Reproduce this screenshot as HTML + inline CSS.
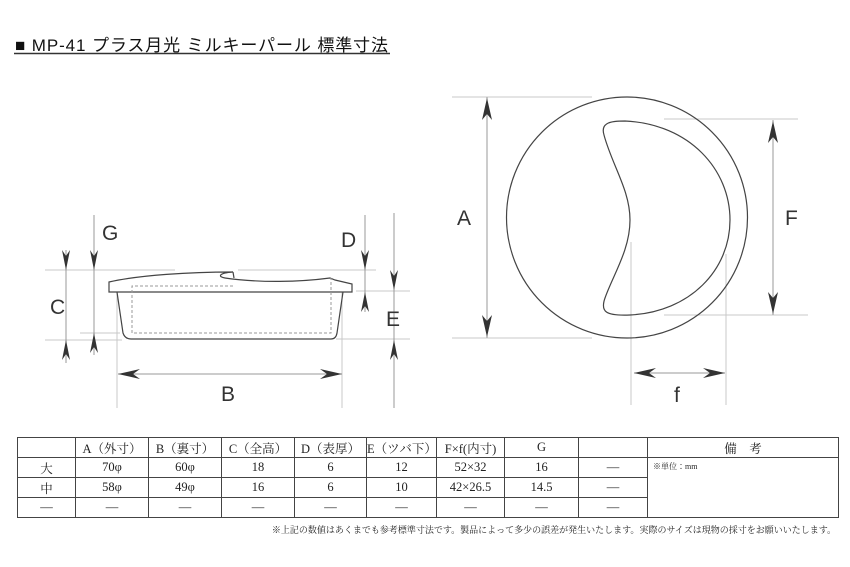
<!DOCTYPE html>
<html><head><meta charset="utf-8"><style>
body{margin:0;background:#fff;width:850px;height:567px;overflow:hidden;position:relative}
svg{position:absolute;left:0;top:0}
.lbl{font-family:"Liberation Sans",sans-serif;font-size:21px;fill:#333}
table{position:absolute;left:17px;top:437px;border-collapse:collapse;font-family:"Liberation Serif","Noto Serif CJK JP",serif;font-size:12.5px;color:#222}
td{border:1px solid #444;height:19px;padding:0;text-align:center;vertical-align:middle}
</style></head><body>
<svg width="850" height="567" viewBox="0 0 850 567">
<text x="15" y="51" textLength="373" lengthAdjust="spacing" font-family="'Liberation Sans','Noto Sans CJK JP',sans-serif" font-size="17" fill="#111">■ MP-41 プラス月光 ミルキーパール 標準寸法</text>
<line x1="14" y1="53.5" x2="390" y2="53.5" stroke="#333" stroke-width="1.5"/>
<g stroke="#c8c8c8" stroke-width="1" fill="none">
<line x1="45" y1="270" x2="175" y2="270"/><line x1="238" y1="270" x2="376" y2="270"/>
<line x1="45" y1="340" x2="122" y2="340"/><line x1="80" y1="333" x2="120" y2="333"/>
<line x1="117" y1="292" x2="117" y2="408"/><line x1="342" y1="292" x2="342" y2="408"/>
<line x1="356" y1="291" x2="410" y2="291"/><line x1="336" y1="339" x2="410" y2="339"/>
<line x1="452" y1="97" x2="592" y2="97"/><line x1="452" y1="338" x2="592" y2="338"/>
<line x1="664" y1="119" x2="798" y2="119"/><line x1="664" y1="315" x2="808" y2="315"/>
<line x1="631" y1="242" x2="631" y2="405"/><line x1="726" y1="254" x2="726" y2="405"/>
</g>
<g stroke="#999" stroke-width="1" fill="none">
<line x1="66" y1="250" x2="66" y2="363"/><line x1="94" y1="215" x2="94" y2="355"/>
<line x1="365" y1="215" x2="365" y2="312"/><line x1="394" y1="213" x2="394" y2="408"/>
<line x1="118" y1="374" x2="342" y2="374"/>
<line x1="487" y1="97" x2="487" y2="338"/><line x1="773" y1="120" x2="773" y2="315"/>
<line x1="634" y1="373" x2="725" y2="373"/>
</g>
<g fill="#333">
<path d="M66,270 l-4,-20 l4,6 l4,-6z"/><path d="M66,340 l-4,20 l4,-6 l4,6z"/>
<path d="M94,270 l-4,-20 l4,6 l4,-6z"/><path d="M94,333 l-4,20 l4,-6 l4,6z"/>
<path d="M365,270 l-4,-20 l4,6 l4,-6z"/><path d="M365,292 l-4,20 l4,-6 l4,6z"/>
<path d="M394,290 l-4,-20 l4,6 l4,-6z"/><path d="M394,340 l-4,20 l4,-6 l4,6z"/>
<path d="M118,374 l22,-5 l-7,5 l7,5z"/><path d="M342,374 l-22,-5 l7,5 l-7,5z"/>
<path d="M487,98 l-5,22 l5,-6 l5,6z"/><path d="M487,337 l-5,-22 l5,6 l5,-6z"/>
<path d="M773,121 l-5,22 l5,-6 l5,6z"/><path d="M773,314 l-5,-22 l5,6 l5,-6z"/>
<path d="M634,373 l22,-5 l-7,5 l7,5z"/><path d="M725,373 l-22,-5 l7,5 l-7,5z"/>
</g>
<g stroke="#444" stroke-width="1.2" fill="none">
<path d="M109,282 L109,292 L352,292 L352,284 L335,280 L330,278 C300,282 260,283 225,278 C218,277 218,273 233,272 C190,272 140,275 109,282 Z"/>
<path d="M233,272 L234,278"/>
<path d="M117,292 L123,333 Q125,339 131,339 L331,339 Q336,339 337,333 L343,292"/>
<circle cx="627" cy="217.5" r="120.5"/>
<path d="M604,135 C600,122 612,121 625,121 C690,124 730,170 730,220 C730,270 690,312 630,315 C606,316 600,312 605,298 C613,275 630,250 630,220 C630,190 612,165 604,135 Z"/>
</g>
<g stroke="#999" stroke-width="1" fill="none" stroke-dasharray="3,2">
<path d="M233,286 L132,286 L132,333 L331,333 L331,278"/>
</g>
<g class="lbl">
<text x="102" y="240">G</text>
<text x="50" y="314">C</text>
<text x="221" y="401">B</text>
<text x="341" y="247">D</text>
<text x="386" y="326">E</text>
<text x="457" y="225">A</text>
<text x="785" y="225">F</text>
<text x="674" y="402">f</text>
</g>
<text x="836" y="533" text-anchor="end" font-family="'Liberation Serif','Noto Serif CJK JP',serif" font-size="9" fill="#222">※上記の数値はあくまでも参考標準寸法です。製品によって多少の誤差が発生いたします。実際のサイズは現物の採寸をお願いいたします。</text>
</svg>
<table>
<tr><td style="width:57px"></td><td style="width:72px">A（外寸）</td><td style="width:72px">B（裏寸）</td><td style="width:72px">C（全高）</td><td style="width:71px">D（表厚）</td><td style="width:69px">E（ツバ下）</td><td style="width:67px">F×f(内寸)</td><td style="width:73px">G</td><td style="width:68px"></td><td style="width:190px">備　考</td></tr>
<tr><td>大</td><td>70φ</td><td>60φ</td><td>18</td><td>6</td><td>12</td><td>52×32</td><td>16</td><td>—</td><td rowspan="3" style="vertical-align:top;text-align:left;font-size:8px;padding:3px 5px">※単位：mm</td></tr>
<tr><td>中</td><td>58φ</td><td>49φ</td><td>16</td><td>6</td><td>10</td><td>42×26.5</td><td>14.5</td><td>—</td></tr>
<tr><td>—</td><td>—</td><td>—</td><td>—</td><td>—</td><td>—</td><td>—</td><td>—</td><td>—</td></tr>
</table>
</body></html>
